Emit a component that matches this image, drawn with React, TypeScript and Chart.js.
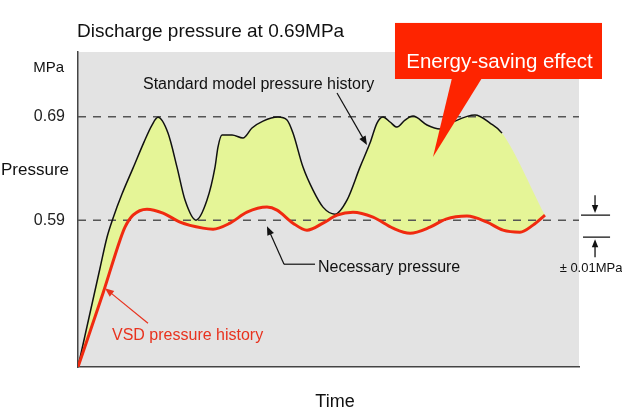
import React, { useEffect, useRef } from 'react';
import { Chart, registerables } from 'chart.js';

Chart.register(...registerables);

// Time (arbitrary units 0-100) and pressure (MPa)
const STANDARD_T = [0, 4.39, 5.79, 6.99, 8.78, 10.98, 13.17, 14.77, 15.97, 17.96, 19.76, 21.36, 23.55, 25.75, 27.35, 27.94, 28.74, 30.74, 32.93, 34.73, 36.93, 39.92, 41.72, 42.91, 44.91, 46.91, 48.9, 51.3, 53.69, 56.29, 58.28, 59.68, 60.88, 62.28, 63.67, 65.27, 66.87, 69.66, 72.26, 74.85, 79.24, 82.24, 84.63, 93.21];
const STANDARD_P = [0.448, 0.5435, 0.5735, 0.5919, 0.6152, 0.6403, 0.6655, 0.682, 0.6894, 0.6742, 0.6413, 0.6094, 0.59, 0.6094, 0.6413, 0.6607, 0.6723, 0.6723, 0.6694, 0.6791, 0.6858, 0.6897, 0.6868, 0.6742, 0.6413, 0.619, 0.6026, 0.5958, 0.6094, 0.6413, 0.6645, 0.6839, 0.6897, 0.6849, 0.68, 0.6868, 0.6907, 0.682, 0.6781, 0.6849, 0.6916, 0.6839, 0.6742, 0.5948];
const VSD_T = [0, 4.99, 8.38, 9.38, 10.98, 13.77, 16.97, 20.36, 24.95, 26.95, 30.34, 33.73, 37.72, 39.72, 42.91, 45.71, 48.9, 51.7, 54.89, 58.88, 62.87, 66.27, 70.26, 73.45, 77.64, 81.64, 84.83, 88.22, 90.82, 93.21];
const VSD_P = [0.448, 0.5193, 0.5706, 0.5832, 0.5948, 0.6006, 0.5968, 0.5881, 0.5823, 0.5813, 0.5871, 0.5977, 0.6026, 0.5997, 0.5871, 0.5803, 0.5871, 0.5948, 0.5977, 0.5929, 0.5823, 0.5774, 0.5832, 0.591, 0.5939, 0.5881, 0.5803, 0.5784, 0.5852, 0.5948];
const Y_TICKS = [0.59, 0.69];
const LEVELS = [0.69, 0.59];
const T_RANGE = [0, 100];
const P_RANGE = [0.448, 0.7526];

const FONT = "'Liberation Sans', Arial, Helvetica, sans-serif";

function arrow(ctx: CanvasRenderingContext2D, x1: number, y1: number, x2: number, y2: number, color: string, size = 8, width = 1.2) {
  ctx.save();
  ctx.strokeStyle = color;
  ctx.fillStyle = color;
  ctx.lineWidth = width;
  const a = Math.atan2(y2 - y1, x2 - x1);
  ctx.beginPath();
  ctx.moveTo(x1, y1);
  ctx.lineTo(x2 - Math.cos(a) * size * 0.6, y2 - Math.sin(a) * size * 0.6);
  ctx.stroke();
  ctx.beginPath();
  ctx.moveTo(x2, y2);
  ctx.lineTo(x2 - size * Math.cos(a) + (size * 0.4) * Math.sin(a), y2 - size * Math.sin(a) - (size * 0.4) * Math.cos(a));
  ctx.lineTo(x2 - size * Math.cos(a) - (size * 0.4) * Math.sin(a), y2 - size * Math.sin(a) + (size * 0.4) * Math.cos(a));
  ctx.closePath();
  ctx.fill();
  ctx.restore();
}

const bgPlugin = {
  id: 'bgPlugin',
  beforeDraw(chart: any) {
    const { ctx, chartArea: a, width, height } = chart;
    ctx.save();
    ctx.fillStyle = '#ffffff';
    ctx.fillRect(0, 0, width, height);
    ctx.fillStyle = '#e3e3e3';
    ctx.fillRect(a.left, a.top, a.right - a.left, a.bottom - a.top);
    ctx.restore();
  },
};

const notesPlugin = {
  id: 'notesPlugin',
  afterDraw(chart: any) {
    const { ctx, chartArea: a } = chart;
    const xs = chart.scales.x;
    const ys = chart.scales.y;
    const X = (t: number) => xs.getPixelForValue(t);
    const Y = (p: number) => ys.getPixelForValue(p);
    ctx.save();
    ctx.textBaseline = 'middle';

    // title
    ctx.fillStyle = '#111';
    ctx.font = `19px ${FONT}`;
    ctx.textAlign = 'left';
    ctx.fillText('Discharge pressure at 0.69MPa', a.left - 1, 32);

    // axis labels
    ctx.font = `15px ${FONT}`;
    ctx.textAlign = 'right';
    ctx.fillText('MPa', a.left - 14, 68);
    ctx.font = `17px ${FONT}`;
    ctx.textAlign = 'left';
    ctx.fillText('Pressure', 1, 170);
    ctx.font = `18px ${FONT}`;
    ctx.textAlign = 'center';
    ctx.fillText('Time', 335, 402);

    // standard model label
    ctx.font = `16px ${FONT}`;
    ctx.textAlign = 'left';
    ctx.fillStyle = '#111';
    ctx.fillText('Standard model pressure history', X(12.97), Y(0.7207));
    arrow(ctx, X(51.7), Y(0.7129), X(57.68), Y(0.6626), '#111', 9, 1.2);

    // necessary pressure
    ctx.fillText('Necessary pressure', X(47.9), Y(0.5445));
    ctx.save();
    ctx.strokeStyle = '#111';
    ctx.lineWidth = 1.2;
    ctx.beginPath();
    ctx.moveTo(X(47.31), Y(0.5474));
    ctx.lineTo(X(41.12), Y(0.5474));
    ctx.stroke();
    ctx.restore();
    arrow(ctx, X(41.12), Y(0.5474), X(37.72), Y(0.5842), '#111', 9, 1.2);

    // VSD
    ctx.fillStyle = '#e8321e';
    ctx.fillText('VSD pressure history', X(6.79), Y(0.4787));
    arrow(ctx, X(13.97), Y(0.4903), X(5.39), Y(0.5242), '#e8321e', 9, 1.2);

    // +-0.01 indicator
    ctx.strokeStyle = '#111';
    ctx.lineWidth = 1.3;
    ctx.beginPath();
    ctx.moveTo(X(100.4), Y(0.5948));
    ctx.lineTo(X(106.2), Y(0.5948));
    ctx.moveTo(X(100.8), Y(0.5735));
    ctx.lineTo(X(106.2), Y(0.5735));
    ctx.stroke();
    arrow(ctx, X(103.2), Y(0.6142), X(103.2), Y(0.5968), '#111', 8, 1.3);
    arrow(ctx, X(103.2), Y(0.5542), X(103.2), Y(0.5716), '#111', 8, 1.3);
    ctx.fillStyle = '#111';
    ctx.font = `13px ${FONT}`;
    ctx.textAlign = 'center';
    ctx.fillText('\u00b1 0.01MPa', X(102.4), Y(0.5435));

    // callout
    ctx.fillStyle = '#fe2400';
    const rl = X(63.27), rr = X(104.59), rt = Y(0.7807), rb = Y(0.7265);
    ctx.fillRect(rl, rt, rr - rl, rb - rt);
    ctx.beginPath();
    ctx.moveTo(X(74.65), rb - 1);
    ctx.lineTo(X(80.64), rb - 1);
    ctx.lineTo(X(70.86), Y(0.651));
    ctx.closePath();
    ctx.fill();
    ctx.fillStyle = '#ffffff';
    ctx.font = `20.5px ${FONT}`;
    ctx.textAlign = 'center';
    ctx.textBaseline = 'alphabetic';
    ctx.fillText('Energy-saving effect', (rl + rr) / 2 + 1, rb - 11);

    ctx.restore();
  },
};

export default function App() {
  const ref = useRef<HTMLCanvasElement | null>(null);
  useEffect(() => {
    if (!ref.current) return;
    Chart.defaults.font.family = FONT;
    const last = STANDARD_T.length - 2;
    const chart = new Chart(ref.current, {
      type: 'line',
      data: {
        datasets: [
          {
            label: 'Standard model pressure history',
            data: STANDARD_T.map((t, i) => ({ x: t, y: STANDARD_P[i] })),
            borderColor: '#111',
            borderWidth: 1.5,
            pointRadius: 0,
            cubicInterpolationMode: 'monotone',
            fill: { target: 1 },
            backgroundColor: '#e5f597',
            order: 2,
            segment: {
              borderColor: (c: any) => (c.p0DataIndex >= last ? 'rgba(0,0,0,0)' : '#111'),
            },
          },
          {
            label: 'VSD pressure history',
            data: VSD_T.map((t, i) => ({ x: t, y: VSD_P[i] })),
            borderColor: '#f02a10',
            borderWidth: 3,
            pointRadius: 0,
            cubicInterpolationMode: 'monotone',
            fill: false,
            order: 1,
          },
          ...LEVELS.map((lv) => ({
            label: String(lv),
            data: T_RANGE.map((t) => ({ x: t, y: lv })),
            borderColor: '#555',
            borderWidth: 1.5,
            borderDash: [8, 7],
            pointRadius: 0,
            fill: false,
            order: 3,
          })),
        ],
      },
      options: {
        animation: false,
        responsive: false,
        events: [],
        layout: { padding: { top: 52, right: 43, bottom: 0, left: 0 } },
        plugins: {
          legend: { display: false },
          tooltip: { enabled: false },
          title: { display: false },
          filler: { drawTime: 'beforeDatasetsDraw' },
        } as any,
        scales: {
          x: {
            type: 'linear',
            min: T_RANGE[0],
            max: T_RANGE[1],
            ticks: { display: false },
            grid: { display: false, drawTicks: false },
            border: { display: true, color: '#444', width: 1.5 },
            afterFit: (s: any) => {
              s.height = 46;
            },
          },
          y: {
            type: 'linear',
            min: P_RANGE[0],
            max: P_RANGE[1],
            afterBuildTicks: (s: any) => {
              s.ticks = Y_TICKS.map((v) => ({ value: v }));
            },
            ticks: {
              padding: 13,
              color: '#222',
              font: { size: 16, family: FONT },
              callback: (v: any) => Number(v).toFixed(2),
            },
            grid: { display: false, drawTicks: false },
            border: { display: true, color: '#444', width: 1.5 },
            afterFit: (s: any) => {
              s.width = 78;
            },
          },
        },
      } as any,
      plugins: [bgPlugin, notesPlugin],
    });
    return () => chart.destroy();
  }, []);
  return (
    <div style={{ position: 'absolute', left: 0, top: 0, width: 622, height: 413, background: '#fff' }}>
      <canvas ref={ref} width={622} height={413} style={{ display: 'block', width: 622, height: 413 }} />
    </div>
  );
}
